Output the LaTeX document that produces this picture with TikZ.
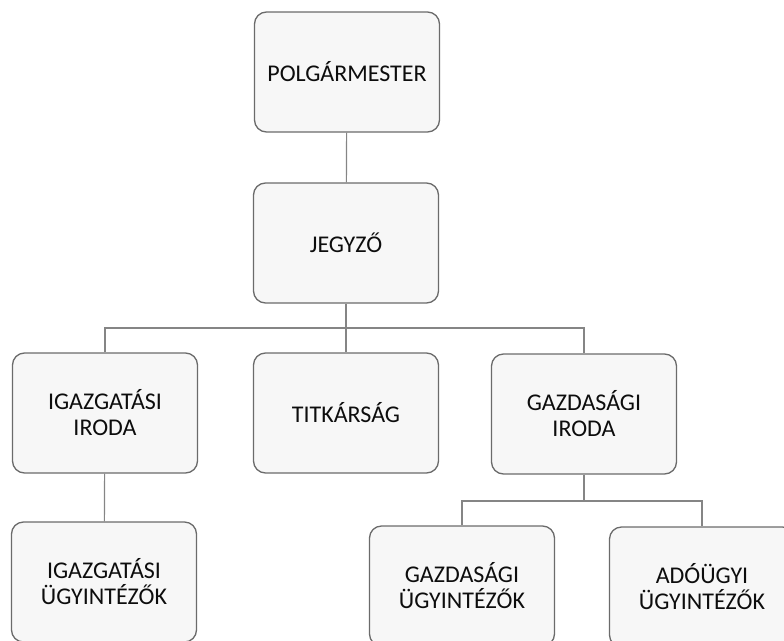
\documentclass[tikz,border=0pt]{standalone}
\usepackage{fontspec}
\setmainfont{Carlito}
\usepackage{tikz}

\begin{document}
\begin{tikzpicture}[x=1pt,y=-1pt,
	egyseg/.style={draw=black!58,fill=black!3,rounded corners=12pt,line width=1.3pt,
		minimum width=185pt,minimum height=120pt,inner sep=0pt,align=center,
		font=\fontsize{24}{26}\selectfont,text=black!95},
	vonal/.style={draw=black!48,line width=1.2pt}]
			\useasboundingbox (0,0) rectangle (784,640);
			\clip (0,0) rectangle (784,640);
			
			% vezetes
			
			\node[egyseg] (P) at (347,72) {POLGÁRMESTER};
			\node[egyseg] (J) at (346,243) {JEGYZŐ};
			\draw[vonal] (P) -- (J);
			
			% irodak
			
			\node[egyseg] (I1) at (105,413) {IGAZGATÁSI\\IRODA};
			\node[egyseg] (I2) at (346,413) {TITKÁRSÁG};
			\node[egyseg] (I3) at (584,414) {GAZDASÁGI\\IRODA};
			\coordinate (B1) at (346,328);
			\draw[vonal] (J) -- (I2);
			\draw[vonal] (I1.north) |- (B1) -| (I3.north);
			
			% ugyintezok
			
			\node[egyseg] (U1) at (104,582) {IGAZGATÁSI\\ÜGYINTÉZŐK};
			\node[egyseg] (U2) at (462,586) {GAZDASÁGI\\ÜGYINTÉZŐK};
			\node[egyseg] (U3) at (702,587) {ADÓÜGYI\\ÜGYINTÉZŐK};
			\draw[vonal] (I1) -- (U1);
			\coordinate (B2) at (584,501);
			\draw[vonal] (I3.south) -- (B2);
			\draw[vonal] (U2.north) |- (B2) -| (U3.north);
			
		\end{tikzpicture}
\end{document}
